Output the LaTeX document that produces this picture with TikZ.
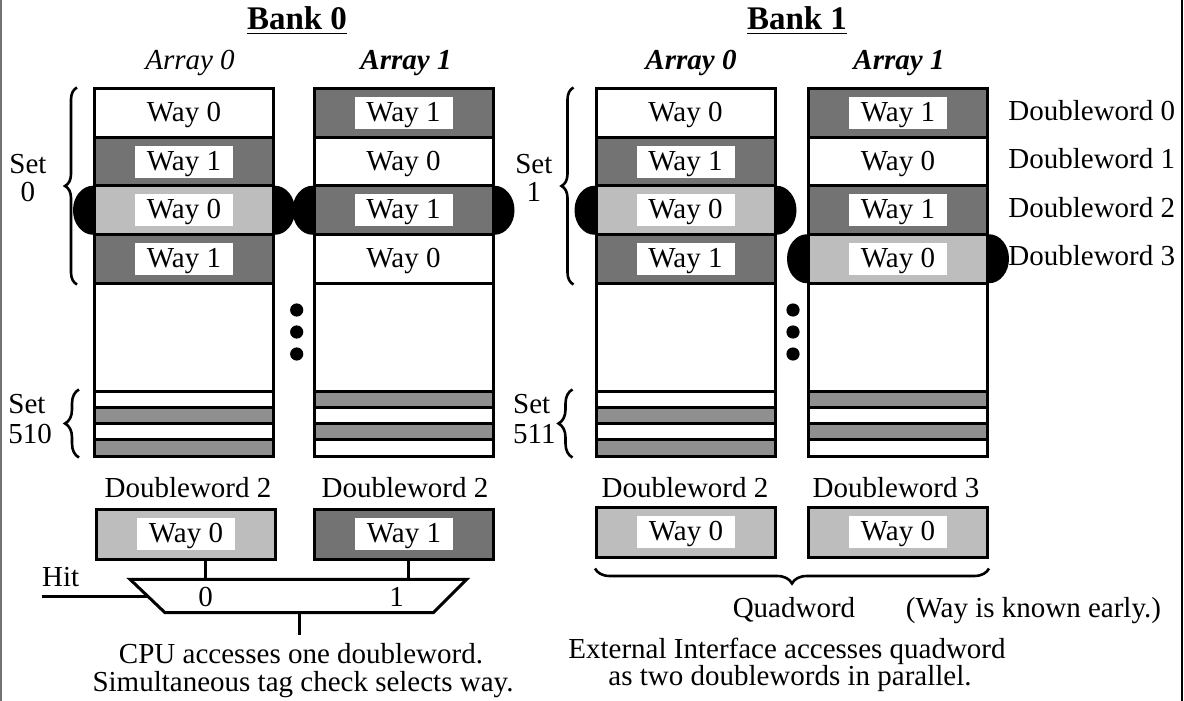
\documentclass[tikz,border=0pt]{standalone}
\usepackage{fontspec}
\setmainfont{Liberation Serif}
\usetikzlibrary{calc, decorations.pathreplacing, backgrounds}

\definecolor{waydark}{gray}{0.45}
\definecolor{waylight}{gray}{0.74}
\definecolor{stripegray}{gray}{0.56}

\begin{document}
\begin{tikzpicture}[
        x=0.5pt, y=-0.5pt,
        font=\fontsize{14.5}{17}\selectfont,
        wayrow/.style={draw, line width=1.5pt, minimum width=89.5pt,
                       minimum height=24.25pt, inner sep=0pt},
        gaprow/.style={wayrow, minimum height=54pt, fill=white},
        striperow/.style={wayrow, minimum height=8.125pt},
        dwbox/.style={wayrow, minimum height=25pt},
        waytag/.style={fill=white, minimum width=49pt, minimum height=16pt,
                       inner sep=0pt, text depth=1pt},
        txt/.style={anchor=base, inner sep=0pt},
        arrlabel/.style={txt, font=\fontsize{14.5}{17}\selectfont\bfseries\itshape},
        banklabel/.style={txt, font=\fontsize{16.5}{20}\selectfont\bfseries},
        setbrace/.style={decorate, decoration={brace, amplitude=#1}, line width=1.3pt},
        wire/.style={line width=1.5pt}
    ]
        \useasboundingbox (0,0) rectangle (1184,701);

        % Page edges
        \draw[black!55, line width=1pt] (1,0) -- (1,701);
        \draw[line width=0.8pt] (1182,0) -- (1182,701);

        % Titles
        \node[banklabel] (bank0) at (297,30) {\underline{Bank 0}};
        \node[banklabel] (bank1) at (797,30) {\underline{Bank 1}};
        \node[arrlabel, font=\fontsize{14.5}{17}\selectfont\itshape] (b0a0lbl) at (190,70) {Array 0};
        \node[arrlabel] (b0a1lbl) at (406,70) {Array 1};
        \node[arrlabel] (b1a0lbl) at (691,70) {Array 0};
        \node[arrlabel] (b1a1lbl) at (899,70) {Array 1};

        % Bank 0, Array 0
        \foreach \i/\f/\w in {1/white/0, 2/waydark/1, 3/waylight/0, 4/waydark/1} {
            \node[wayrow, fill=\f] (b0a0w\i) at (184,{89+48.5*(\i-0.5)}) {};
            \node[waytag] (b0a0t\i) at (b0a0w\i) {Way \w};
        }
        \node[gaprow] (b0a0gap) at (184,337) {};
        \foreach \i/\f in {1/white, 2/stripegray, 3/white, 4/stripegray}
            \node[striperow, fill=\f] (b0a0s\i) at (184,{391+16.25*(\i-0.5)}) {};

        % Bank 0, Array 1
        \foreach \i/\f/\w in {1/waydark/1, 2/white/0, 3/waydark/1, 4/white/0} {
            \node[wayrow, fill=\f] (b0a1w\i) at (403.5,{89+48.5*(\i-0.5)}) {};
            \node[waytag] (b0a1t\i) at (b0a1w\i) {Way \w};
        }
        \node[gaprow] (b0a1gap) at (403.5,337) {};
        \foreach \i/\f in {1/stripegray, 2/white, 3/stripegray, 4/white}
            \node[striperow, fill=\f] (b0a1s\i) at (403.5,{391+16.25*(\i-0.5)}) {};

        % Bank 1, Array 0
        \foreach \i/\f/\w in {1/white/0, 2/waydark/1, 3/waylight/0, 4/waydark/1} {
            \node[wayrow, fill=\f] (b1a0w\i) at (685.5,{89+48.5*(\i-0.5)}) {};
            \node[waytag] (b1a0t\i) at (b1a0w\i) {Way \w};
        }
        \node[gaprow] (b1a0gap) at (685.5,337) {};
        \foreach \i/\f in {1/white, 2/stripegray, 3/white, 4/stripegray}
            \node[striperow, fill=\f] (b1a0s\i) at (685.5,{391+16.25*(\i-0.5)}) {};

        % Bank 1, Array 1
        \foreach \i/\f/\w in {1/waydark/1, 2/white/0, 3/waydark/1, 4/waylight/0} {
            \node[wayrow, fill=\f] (b1a1w\i) at (898,{89+48.5*(\i-0.5)}) {};
            \node[waytag] (b1a1t\i) at (b1a1w\i) {Way \w};
        }
        \node[gaprow] (b1a1gap) at (898,337) {};
        \foreach \i/\f in {1/stripegray, 2/white, 3/stripegray, 4/white}
            \node[striperow, fill=\f] (b1a1s\i) at (898,{391+16.25*(\i-0.5)}) {};

        % Selected rows
        \begin{scope}[on background layer]
            \foreach \r in {b0a0w3, b0a1w3, b1a0w3, b1a1w4} {
                \fill (\r.west) ellipse [x radius=10pt, y radius=12.25pt];
                \fill (\r.east) ellipse [x radius=10pt, y radius=12.25pt];
            }
        \end{scope}

        % Ellipsis dots
        \foreach \y in {310,332,354} {
            \fill (296.7,\y) circle [radius=3.3pt];
            \fill (793,\y) circle [radius=3.3pt];
        }

        % Doubleword labels
        \foreach \i/\d in {1/0, 2/1, 3/2, 4/3}
            \node[txt, anchor=base west] (dwlbl\d) at (1008,{89+48.5*(\i-0.5)+7}) {Doubleword \d};

        % Set labels and braces
        \node[txt] (set0a) at (28,173.3) {Set};
        \node[txt] (set0b) at (28,201.7) {0};
        \node[txt] (set1a) at (533.8,173.3) {Set};
        \node[txt] (set1b) at (533.8,201.7) {1};
        \node[txt, anchor=base west] (set510a) at (8,413.3) {Set};
        \node[txt, anchor=base west] (set510b) at (8,443.3) {510};
        \node[txt, anchor=base west] (set511a) at (512.8,413.3) {Set};
        \node[txt, anchor=base west] (set511b) at (512.8,443.3) {511};
        \draw[setbrace=6pt] ([xshift=-8pt]b0a0w4.south west) -- ([xshift=-8pt]b0a0w1.north west);
        \draw[setbrace=6pt] ([xshift=-10.5pt]b1a0w4.south west) -- ([xshift=-10.5pt]b1a0w1.north west);
        \draw[setbrace=7pt] ([xshift=-7pt]b0a0s4.south west) -- ([xshift=-7pt]b0a0s1.north west);
        \draw[setbrace=7pt] ([xshift=-11pt]b1a0s4.south west) -- ([xshift=-11pt]b1a0s1.north west);

        % Bank 0 read path
        \node[txt] (b0dw0lbl) at (188,497) {Doubleword 2};
        \node[txt] (b0dw1lbl) at (405,497) {Doubleword 2};
        \node[dwbox, fill=waylight] (b0dw0) at (186,534) {};
        \node[waytag] (b0dw0t) at (b0dw0) {Way 0};
        \node[dwbox, fill=waydark] (b0dw1) at (404,534) {};
        \node[waytag] (b0dw1t) at (b0dw1) {Way 1};

        \coordinate (muxtl) at (130,579.3);
        \coordinate (muxtr) at (466.7,579.3);
        \coordinate (muxbr) at (433.3,612.7);
        \coordinate (muxbl) at (165,612.7);
        \draw[wire] (muxtl) -- (muxtr) -- (muxbr) -- (muxbl) -- cycle;
        \coordinate (muxin0) at (205.7,579.3);
        \coordinate (muxin1) at (408.3,579.3);
        \draw[wire] (b0dw0.south -| muxin0) -- (muxin0);
        \draw[wire] (b0dw1.south -| muxin1) -- (muxin1);
        \node[txt] (mux0) at (205.7,606) {0};
        \node[txt] (mux1) at (396.7,606) {1};

        \node[txt, anchor=base west] (hit) at (41.7,586.7) {Hit};
        \coordinate (hitin) at ($(muxtl)!0.52!(muxbl)$);
        \draw[wire] (hitin -| hit.west) -- (hitin);

        \coordinate (muxout) at ($(muxbl)!0.5!(muxbr)$);
        \coordinate (cpuin) at ($(muxout)+(0,22.3)$);
        \draw[wire] (muxout) -- (cpuin);
        \node[txt] (cpu1) at (301,663.3) {CPU accesses one doubleword.};
        \node[txt] (cpu2) at (303,691.7) {Simultaneous tag check selects way.};

        % Bank 1 read path
        \node[txt] (b1dw2lbl) at (685,497) {Doubleword 2};
        \node[txt] (b1dw3lbl) at (896,497) {Doubleword 3};
        \node[dwbox, fill=waylight] (b1dw2) at (686,532) {};
        \node[waytag] (b1dw2t) at (b1dw2) {Way 0};
        \node[dwbox, fill=waylight] (b1dw3) at (898,532) {};
        \node[waytag] (b1dw3t) at (b1dw3) {Way 0};
        \draw[setbrace=7.5pt] ([yshift=-5pt]b1dw3.south east) -- ([yshift=-5pt]b1dw2.south west);
        \node[txt] (quad) at (794,617) {Quadword};
        \node[txt] (early) at (1033.5,617) {(Way is known early.)};
        \node[txt] (ext1) at (787,658.3) {External Interface accesses quadword};
        \node[txt] (ext2) at (790,685) {as two doublewords in parallel.};
    \end{tikzpicture}
\end{document}
